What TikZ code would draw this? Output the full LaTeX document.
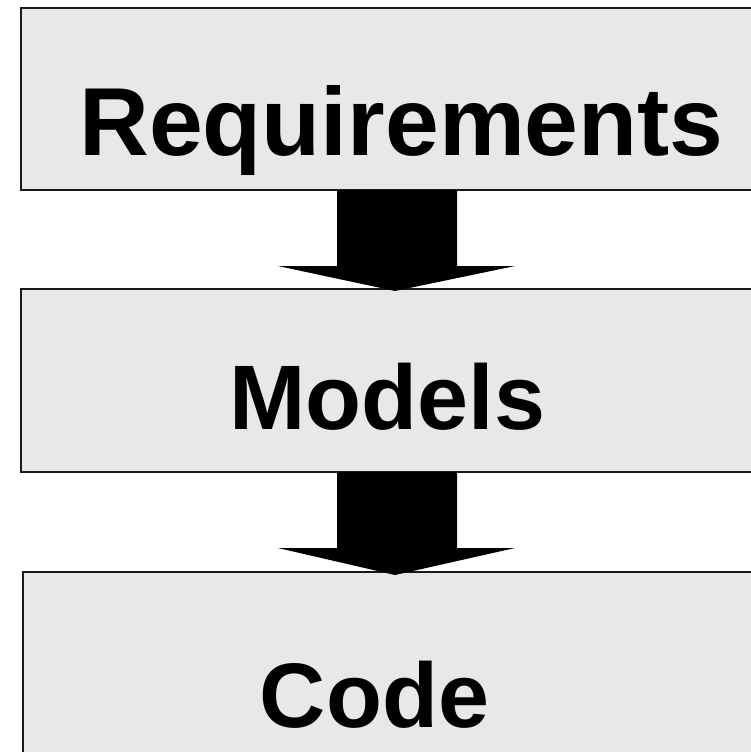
\documentclass[tikz,border=0pt]{standalone}
\usepackage{fontspec}
\setmainfont{Liberation Sans}
\usetikzlibrary{calc,positioning}

\begin{document}
\begin{tikzpicture}[x=1bp, y=-1bp]
	\tikzstyle{every node} = [inner sep = 0, outer sep = 0]
	\tikzstyle{stage} = [draw = black!90, line width = 2.4bp, fill = black!9, anchor = north west]
	\tikzstyle{word} = [anchor = base, font = \bfseries\fontsize{92}{92}\selectfont]
\useasboundingbox (0,0) rectangle (751,752);
\clip (0,0) rectangle (751,752);
% the three stages
\node[stage, minimum width = 780bp, minimum height = 182bp] (req) at (21, 8) {};
\node[stage, minimum width = 780bp, minimum height = 183bp] (mod) at (21, 289) {};
\node[stage, minimum width = 780bp, minimum height = 200bp] (code) at (23, 572) {};

	\node[word, font = \bfseries\fontsize{97}{97}\selectfont] (reqtxt) at (401.5, 155) {Requirements};
	\node[word] (modtxt) at (387.5, 429) {Models};
	\node[word] (codetxt) at (374.5, 727) {Code};

% block arrows
\coordinate (top1) at ($(req.south west)+(376,0)$);
\coordinate (tip1) at ($(mod.north west)+(374,2)$);
\coordinate (top2) at ($(mod.south west)+(376,0)$);
\coordinate (tip2) at ($(code.north west)+(372,3)$);
	\path[fill] ($(top1)+(-60,0)$) -- ($(top1)+(-60,76)$) -- ($(top1)+(-119,76)$) -- (tip1)
		-- ($(top1)+(118,76)$) -- ($(top1)+(60,76)$) -- ($(top1)+(60,0)$) -- cycle;
	\path[fill] ($(top2)+(-60,0)$) -- ($(top2)+(-60,76)$) -- ($(top2)+(-119,76)$) -- (tip2)
		-- ($(top2)+(118,76)$) -- ($(top2)+(60,76)$) -- ($(top2)+(60,0)$) -- cycle;
\end{tikzpicture}
\end{document}
